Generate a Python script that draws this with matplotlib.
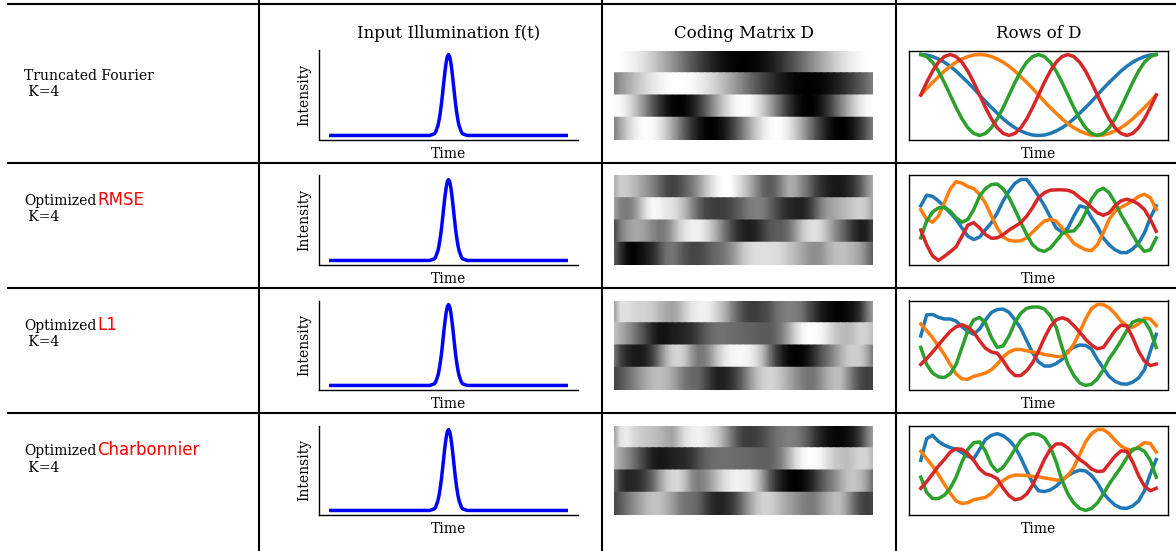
import numpy as np
import matplotlib
matplotlib.use('Agg')
import matplotlib.pyplot as plt
from matplotlib.lines import Line2D

plt.rcParams['font.family'] = 'serif'
plt.rcParams['font.serif'] = ['DejaVu Serif']

# ---- data ------------------------------------------------------------------
# 41 samples over the (normalised) time window, same grid for every row of D
n_samples = 41
t = np.arange(n_samples) / (n_samples - 1)

# input illumination: narrow gaussian-like pulse in the middle of the window
pulse_time = [0.0, 0.42, 0.44, 0.445, 0.45, 0.455, 0.46, 0.465, 0.47, 0.475, 0.48, 0.485,
              0.49, 0.495, 0.50, 0.505, 0.51, 0.515, 0.52, 0.525, 0.53, 0.535, 0.54,
              0.545, 0.55, 0.555, 0.56, 0.58, 1.0]
pulse_intensity = [0, 0, 0.02, 0.04, 0.08, 0.12, 0.19, 0.28, 0.39, 0.52, 0.66, 0.79,
                   0.90, 0.975, 1.00, 0.975, 0.90, 0.79, 0.66, 0.52, 0.39, 0.28, 0.19,
                   0.12, 0.08, 0.04, 0.02, 0, 0]

# rows of D, order: blue, orange, green, red (= image rows top to bottom)
fourier_d = [
    [1.00, 0.99, 0.95, 0.89, 0.81, 0.71, 0.59, 0.45, 0.31, 0.16, 0.00, -0.16, -0.31, -0.45,
     -0.59, -0.71, -0.81, -0.89, -0.95, -0.99, -1.00, -0.99, -0.95, -0.89, -0.81, -0.71, -0.59,
     -0.45, -0.31, -0.16, 0.00, 0.16, 0.31, 0.45, 0.59, 0.71, 0.81, 0.89, 0.95, 0.99, 1.00],
    [0.00, 0.16, 0.31, 0.45, 0.59, 0.71, 0.81, 0.89, 0.95, 0.99, 1.00, 0.99, 0.95, 0.89,
     0.81, 0.71, 0.59, 0.45, 0.31, 0.16, 0.00, -0.16, -0.31, -0.45, -0.59, -0.71, -0.81,
     -0.89, -0.95, -0.99, -1.00, -0.99, -0.95, -0.89, -0.81, -0.71, -0.59, -0.45, -0.31, -0.16, 0.00],
    [1.00, 0.95, 0.81, 0.59, 0.31, 0.00, -0.31, -0.59, -0.81, -0.95, -1.00, -0.95, -0.81, -0.59,
     -0.31, 0.00, 0.31, 0.59, 0.81, 0.95, 1.00, 0.95, 0.81, 0.59, 0.31, 0.00, -0.31,
     -0.59, -0.81, -0.95, -1.00, -0.95, -0.81, -0.59, -0.31, 0.00, 0.31, 0.59, 0.81, 0.95, 1.00],
    [0.00, 0.31, 0.59, 0.81, 0.95, 1.00, 0.95, 0.81, 0.59, 0.31, 0.00, -0.31, -0.59, -0.81,
     -0.95, -1.00, -0.95, -0.81, -0.59, -0.31, 0.00, 0.31, 0.59, 0.81, 0.95, 1.00, 0.95,
     0.81, 0.59, 0.31, 0.00, -0.31, -0.59, -0.81, -0.95, -1.00, -0.95, -0.81, -0.59, -0.31, 0.00],
]

rmse_d = [
    [0.34, 0.60, 0.57, 0.46, 0.32, 0.17, 0.01, -0.20, -0.40, -0.48, -0.42, -0.24, -0.07, 0.17,
     0.46, 0.70, 0.89, 0.98, 0.98, 0.79, 0.58, 0.34, 0.07, -0.20, -0.30, -0.20, 0.09,
     0.34, 0.30, 0.05, -0.16, -0.44, -0.61, -0.73, -0.80, -0.80, -0.71, -0.57, -0.32, 0.05, 0.34],
    [0.25, 0.01, -0.06, 0.09, 0.42, 0.75, 0.93, 0.89, 0.81, 0.76, 0.62, 0.40, 0.09, -0.20,
     -0.42, -0.50, -0.52, -0.51, -0.44, -0.30, -0.16, -0.03, 0.01, -0.03, -0.20, -0.39, -0.57,
     -0.66, -0.73, -0.75, -0.61, -0.32, 0.01, 0.21, 0.30, 0.38, 0.46, 0.57, 0.62, 0.54, 0.25],
    [-0.44, -0.03, 0.19, 0.29, 0.30, 0.21, 0.05, -0.06, 0.01, 0.25, 0.58, 0.76, 0.86, 0.87,
     0.75, 0.54, 0.25, -0.07, -0.36, -0.61, -0.73, -0.77, -0.69, -0.52, -0.34, -0.28, -0.27,
     -0.11, 0.17, 0.50, 0.70, 0.77, 0.66, 0.42, 0.13, -0.11, -0.36, -0.61, -0.77, -0.73, -0.44],
    [-0.25, -0.61, -0.88, -0.99, -0.89, -0.78, -0.66, -0.40, -0.13, -0.07, -0.20, -0.36, -0.45, -0.44,
     -0.36, -0.25, -0.16, -0.07, 0.09, 0.30, 0.54, 0.66, 0.72, 0.73, 0.73, 0.72, 0.66,
     0.54, 0.44, 0.30, 0.17, 0.11, 0.17, 0.34, 0.46, 0.50, 0.46, 0.38, 0.25, 0.01, -0.28],
]

l1_d = [
    [0.21, 0.72, 0.73, 0.66, 0.62, 0.62, 0.57, 0.43, 0.32, 0.25, 0.38, 0.60, 0.78, 0.85,
     0.86, 0.78, 0.60, 0.39, 0.09, -0.20, -0.42, -0.52, -0.52, -0.46, -0.36, -0.16, -0.06,
     -0.01, -0.02, -0.11, -0.36, -0.57, -0.77, -0.89, -0.95, -0.96, -0.91, -0.81, -0.61, -0.16, 0.25],
    [0.50, 0.34, 0.17, -0.03, -0.24, -0.48, -0.71, -0.83, -0.84, -0.77, -0.73, -0.69, -0.61, -0.47,
     -0.30, -0.18, -0.12, -0.12, -0.15, -0.18, -0.20, -0.24, -0.26, -0.29, -0.29, -0.20, 0.01,
     0.30, 0.62, 0.87, 0.97, 0.97, 0.89, 0.75, 0.57, 0.46, 0.42, 0.50, 0.64, 0.62, 0.46],
    [-0.07, -0.48, -0.69, -0.78, -0.80, -0.71, -0.48, -0.07, 0.34, 0.60, 0.66, 0.52, 0.17, -0.07,
     -0.03, 0.21, 0.54, 0.76, 0.88, 0.91, 0.91, 0.86, 0.70, 0.42, -0.07, -0.48, -0.75,
     -0.93, -0.99, -0.96, -0.83, -0.61, -0.34, -0.14, 0.09, 0.34, 0.54, 0.60, 0.57, 0.34, -0.07],
    [-0.48, -0.34, -0.18, -0.01, 0.16, 0.32, 0.43, 0.48, 0.42, 0.30, 0.09, -0.09, -0.18, -0.21,
     -0.39, -0.61, -0.75, -0.75, -0.63, -0.44, -0.16, 0.16, 0.43, 0.60, 0.65, 0.60, 0.46,
     0.30, 0.13, -0.01, -0.10, -0.07, 0.13, 0.34, 0.47, 0.45, 0.17, -0.16, -0.40, -0.51, -0.47],
]

charbonnier_d = [
    [0.24, 0.77, 0.85, 0.70, 0.61, 0.55, 0.51, 0.43, 0.34, 0.28, 0.51, 0.75, 0.85, 0.89,
     0.84, 0.73, 0.57, 0.30, -0.01, -0.31, -0.50, -0.52, -0.48, -0.39, -0.25, -0.13, -0.05,
     0.00, -0.02, -0.13, -0.31, -0.56, -0.72, -0.85, -0.92, -0.93, -0.87, -0.75, -0.50, -0.09, 0.26],
    [0.46, 0.28, 0.10, -0.11, -0.34, -0.56, -0.75, -0.81, -0.79, -0.72, -0.69, -0.66, -0.56, -0.39,
     -0.25, -0.16, -0.12, -0.12, -0.13, -0.15, -0.16, -0.19, -0.21, -0.24, -0.24, -0.13, 0.07,
     0.38, 0.69, 0.89, 0.99, 0.99, 0.89, 0.73, 0.59, 0.51, 0.48, 0.57, 0.67, 0.65, 0.44],
    [-0.17, -0.54, -0.69, -0.69, -0.61, -0.44, -0.17, 0.20, 0.51, 0.67, 0.69, 0.46, 0.13, -0.03,
     0.07, 0.28, 0.51, 0.73, 0.85, 0.89, 0.87, 0.79, 0.57, 0.20, -0.25, -0.58, -0.80,
     -0.93, -0.98, -0.93, -0.80, -0.58, -0.34, -0.13, 0.07, 0.30, 0.51, 0.54, 0.46, 0.24, -0.17],
    [-0.44, -0.28, -0.09, 0.10, 0.26, 0.44, 0.52, 0.51, 0.40, 0.24, 0.03, -0.09, -0.13, -0.21,
     -0.44, -0.62, -0.72, -0.69, -0.58, -0.36, -0.05, 0.26, 0.51, 0.64, 0.64, 0.54, 0.39,
     0.26, 0.16, 0.03, -0.03, -0.02, 0.16, 0.34, 0.47, 0.46, 0.20, -0.13, -0.39, -0.50, -0.44],
]

coding_matrices = [fourier_d, rmse_d, l1_d, charbonnier_d]
method_names = ['Truncated Fourier', 'Optimized', 'Optimized', 'Optimized']
loss_names = [None, 'RMSE', 'L1', 'Charbonnier']
k_label = 'K=4'
col_titles = ['Input Illumination f(t)', 'Coding Matrix D', 'Rows of D']
row_colors = ['tab:blue', 'tab:orange', 'tab:green', 'tab:red']

# ---- layout (pixels) -------------------------------------------------------
W, H = 1176, 551
fig = plt.figure(figsize=(W / 100, H / 100), dpi=100)

col_left = [319, 614, 909]
ax_w, ax_h = 259, 89
row_top = [50.5, 175.5, 300.5, 425.5]


def px_rect(left, top, w, h):
    return [left / W, 1 - (top + h) / H, w / W, h / H]


# table grid
for y in [3.5, 163, 288, 413]:
    fig.add_artist(Line2D([8 / W, 1], [1 - y / H] * 2, color='black', lw=1.5))
for x in [259, 601.5, 896]:
    fig.add_artist(Line2D([x / W] * 2, [0, 1], color='black', lw=1.5))

renderer = fig.canvas.get_renderer()

for r, D in enumerate(coding_matrices):
    D = np.array(D)
    top = row_top[r]

    # input illumination
    ax = fig.add_axes(px_rect(col_left[0], top, ax_w, ax_h))
    ax.plot(pulse_time, pulse_intensity, color='blue', lw=2.5)
    ax.set_xticks([])
    ax.set_yticks([])
    ax.spines[['top', 'right']].set_visible(False)
    for s in ['left', 'bottom']:
        ax.spines[s].set_linewidth(1.0)
    ax.set_xlabel('Time', fontsize=10, labelpad=5.5)
    ax.set_ylabel('Intensity', fontsize=10, labelpad=5.5)
    if r == 0:
        ax.set_title(col_titles[0], fontsize=12, pad=9)

    # coding matrix as grayscale strips, smooth along time
    ax = fig.add_axes(px_rect(col_left[1], top, ax_w, ax_h))
    for i, row in enumerate(D):
        ax.pcolormesh(t, [i, i + 1], np.vstack([row, row]), cmap='gray',
                      vmin=D.min(), vmax=D.max(), shading='gouraud')
    ax.set_xlim(0, 1)
    ax.set_ylim(len(D), 0)
    ax.axis('off')
    if r == 0:
        ax.set_title(col_titles[1], fontsize=12, pad=9)

    # rows of D as curves
    ax = fig.add_axes(px_rect(col_left[2], top, ax_w, ax_h))
    for i, row in enumerate(D):
        ax.plot(t, row, color=row_colors[i], lw=2.5)
    ax.set_xticks([])
    ax.set_yticks([])
    for s in ax.spines.values():
        s.set_linewidth(1.0)
    ax.set_xlabel('Time', fontsize=10, labelpad=5.5)
    if r == 0:
        ax.set_title(col_titles[2], fontsize=12, pad=9)

    # left column label
    base = 80 + 125 * r
    txt = fig.text(24 / W, 1 - base / H, method_names[r], fontsize=10, va='baseline')
    fig.text(24 / W, 1 - (base + 16.5) / H, ' ' + k_label, fontsize=10, va='baseline')
    if loss_names[r]:
        bb = txt.get_window_extent(renderer)
        fig.text(bb.x1 / W + 1 / W, 1 - base / H, loss_names[r], fontsize=12,
                 family='DejaVu Sans', color='red', va='baseline')

fig.savefig('out.png', dpi=100)
